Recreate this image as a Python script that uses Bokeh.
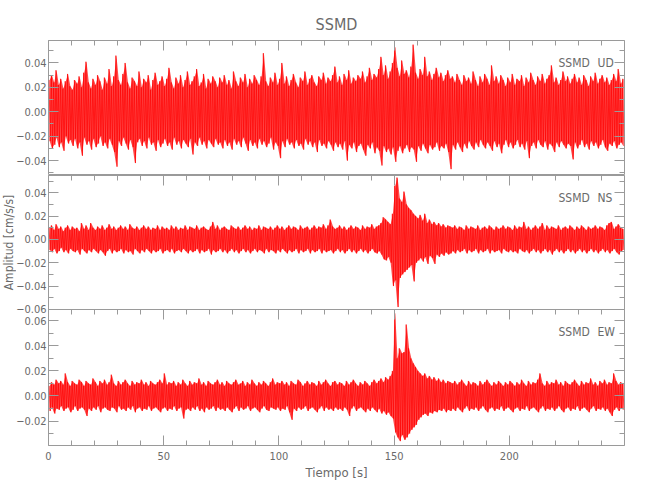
import numpy as np
from math import pi
from bokeh.plotting import figure
from bokeh.models import Range1d, FixedTicker, LinearAxis, Label
from bokeh.layouts import column, row
from bokeh.core.properties import value
from bokeh.embed import file_html
from bokeh.resources import INLINE

# ---------------- data (per-second peaks) ----------------
station = "SSMD"
components = ["UD", "NS", "EW"]
x_title = "Tiempo [s]"
y_title = "Amplitud [cm/s/s]"
t_start = 0.0      # s
t_step = 1.0       # s per envelope sample

ud_max = [
 0.026, 0.030, 0.024, 0.034, 0.022, 0.027, 0.019, 0.025, 0.031, 0.021, 0.018, 0.026, 0.023, 0.029, 0.020, 0.032, 0.041, 0.024, 0.019, 0.027, 0.022, 0.030, 0.025, 0.018, 0.028,
 0.023, 0.035, 0.021, 0.029, 0.046, 0.026, 0.022, 0.031, 0.040, 0.024, 0.019, 0.028, 0.025, 0.021, 0.033, 0.020, 0.027, 0.024, 0.030, 0.018, 0.026, 0.032, 0.022, 0.025, 0.029,
 0.021, 0.027, 0.036, 0.024, 0.019, 0.028, 0.023, 0.030, 0.020, 0.026, 0.033, 0.022, 0.025, 0.029, 0.035, 0.021, 0.024, 0.031, 0.019, 0.027, 0.023, 0.029, 0.025, 0.020, 0.028,
 0.024, 0.030, 0.022, 0.026, 0.019, 0.033, 0.025, 0.021, 0.028, 0.024, 0.031, 0.020, 0.027, 0.023, 0.030, 0.026, 0.022, 0.029, 0.048, 0.025, 0.021, 0.028, 0.024, 0.032, 0.022,
 0.027, 0.040, 0.023, 0.029, 0.021, 0.026, 0.031, 0.024, 0.020, 0.028, 0.025, 0.033, 0.022, 0.027, 0.030, 0.024, 0.021, 0.029, 0.026, 0.032, 0.023, 0.028, 0.025, 0.030, 0.037,
 0.024, 0.029, 0.022, 0.031, 0.026, 0.034, 0.023, 0.028, 0.025, 0.030, 0.027, 0.033, 0.024, 0.029, 0.036, 0.026, 0.031, 0.028, 0.035, 0.045, 0.030, 0.038, 0.027, 0.033, 0.040,
 0.053, 0.036, 0.029, 0.042, 0.031, 0.034, 0.028, 0.037, 0.055, 0.032, 0.027, 0.035, 0.030, 0.045, 0.029, 0.033, 0.026, 0.031, 0.036, 0.028, 0.032, 0.025, 0.030, 0.034, 0.027,
 0.029, 0.024, 0.031, 0.026, 0.022, 0.030, 0.025, 0.028, 0.023, 0.033, 0.026, 0.021, 0.029, 0.024, 0.031, 0.027, 0.022, 0.038, 0.025, 0.029, 0.023, 0.030, 0.026, 0.021, 0.028,
 0.024, 0.031, 0.022, 0.027, 0.025, 0.030, 0.021, 0.028, 0.024, 0.032, 0.026, 0.022, 0.029, 0.025, 0.031, 0.023, 0.027, 0.030, 0.038, 0.024, 0.028, 0.022, 0.026, 0.033, 0.025,
 0.029, 0.023, 0.027, 0.031, 0.024, 0.028, 0.022, 0.030, 0.026, 0.021, 0.029, 0.025, 0.032, 0.023, 0.027, 0.030, 0.024, 0.028, 0.022, 0.026, 0.031, 0.025, 0.035, 0.023, 0.027,
]
ud_min = [
 -0.024, -0.030, -0.027, -0.021, -0.029, -0.025, -0.032, -0.020, -0.026, -0.023, -0.028, -0.022, -0.030, -0.025, -0.036, -0.021, -0.027, -0.024, -0.031, -0.022, -0.029, -0.026, -0.020, -0.028, -0.025,
 -0.030, -0.022, -0.027, -0.033, -0.045, -0.024, -0.028, -0.021, -0.026, -0.031, -0.023, -0.029, -0.042, -0.025, -0.022, -0.028, -0.024, -0.030, -0.021, -0.027, -0.025, -0.032, -0.023, -0.029, -0.026,
 -0.022, -0.028, -0.025, -0.031, -0.021, -0.027, -0.024, -0.030, -0.023, -0.026, -0.029, -0.022, -0.035, -0.025, -0.028, -0.021, -0.027, -0.024, -0.030, -0.023, -0.026, -0.029, -0.022, -0.027, -0.025,
 -0.030, -0.023, -0.028, -0.025, -0.031, -0.022, -0.027, -0.024, -0.029, -0.021, -0.026, -0.032, -0.023, -0.028, -0.025, -0.030, -0.022, -0.027, -0.024, -0.029, -0.026, -0.021, -0.031, -0.025, -0.028,
 -0.038, -0.024, -0.029, -0.022, -0.027, -0.025, -0.030, -0.023, -0.028, -0.026, -0.031, -0.022, -0.027, -0.024, -0.029, -0.025, -0.033, -0.023, -0.028, -0.026, -0.030, -0.024, -0.027, -0.032, -0.025,
 -0.029, -0.026, -0.031, -0.024, -0.040, -0.027, -0.030, -0.025, -0.033, -0.028, -0.026, -0.031, -0.036, -0.027, -0.030, -0.025, -0.034, -0.029, -0.032, -0.044, -0.028, -0.033, -0.030, -0.035, -0.029,
 -0.041, -0.032, -0.028, -0.034, -0.030, -0.027, -0.033, -0.029, -0.031, -0.041, -0.028, -0.032, -0.026, -0.030, -0.034, -0.027, -0.031, -0.029, -0.025, -0.032, -0.028, -0.030, -0.026, -0.033, -0.047,
 -0.027, -0.031, -0.025, -0.029, -0.033, -0.026, -0.030, -0.024, -0.028, -0.031, -0.025, -0.029, -0.023, -0.027, -0.030, -0.025, -0.028, -0.032, -0.024, -0.029, -0.026, -0.034, -0.027, -0.023, -0.029,
 -0.025, -0.030, -0.027, -0.023, -0.029, -0.026, -0.031, -0.024, -0.038, -0.028, -0.025, -0.030, -0.023, -0.027, -0.029, -0.024, -0.031, -0.026, -0.028, -0.033, -0.025, -0.029, -0.024, -0.027, -0.030,
 -0.026, -0.028, -0.039, -0.025, -0.030, -0.027, -0.023, -0.029, -0.026, -0.031, -0.024, -0.028, -0.025, -0.030, -0.027, -0.023, -0.029, -0.032, -0.026, -0.028, -0.024, -0.030, -0.027, -0.025, -0.028,
]

ns_max = [
 0.010, 0.012, 0.008, 0.013, 0.009, 0.011, 0.007, 0.010, 0.012, 0.008, 0.011, 0.009, 0.010, 0.007, 0.014, 0.009, 0.012, 0.008, 0.014, 0.010, 0.008, 0.011, 0.009, 0.012, 0.008,
 0.010, 0.013, 0.009, 0.011, 0.008, 0.010, 0.012, 0.009, 0.011, 0.008, 0.013, 0.010, 0.009, 0.011, 0.008, 0.010, 0.012, 0.009, 0.011, 0.008, 0.010, 0.009, 0.012, 0.008, 0.011,
 0.009, 0.010, 0.008, 0.012, 0.009, 0.011, 0.008, 0.010, 0.009, 0.012, 0.008, 0.011, 0.010, 0.009, 0.012, 0.008, 0.010, 0.011, 0.009, 0.008, 0.011, 0.015, 0.009, 0.012, 0.008,
 0.010, 0.011, 0.009, 0.008, 0.012, 0.010, 0.009, 0.011, 0.008, 0.010, 0.012, 0.009, 0.011, 0.008, 0.010, 0.009, 0.012, 0.008, 0.011, 0.010, 0.009, 0.011, 0.008, 0.010, 0.012,
 0.009, 0.011, 0.008, 0.010, 0.012, 0.009, 0.011, 0.010, 0.008, 0.012, 0.009, 0.010, 0.011, 0.008, 0.010, 0.012, 0.009, 0.011, 0.010, 0.013, 0.009, 0.012, 0.017, 0.011, 0.009,
 0.010, 0.012, 0.009, 0.011, 0.008, 0.010, 0.012, 0.009, 0.011, 0.010, 0.008, 0.012, 0.009, 0.011, 0.010, 0.013, 0.009, 0.011, 0.012, 0.014, 0.019, 0.017, 0.015, 0.013, 0.022,
 0.046, 0.053, 0.035, 0.032, 0.041, 0.030, 0.027, 0.025, 0.022, 0.020, 0.018, 0.021, 0.016, 0.022, 0.014, 0.017, 0.013, 0.015, 0.012, 0.014, 0.011, 0.013, 0.010, 0.012, 0.011,
 0.010, 0.012, 0.009, 0.011, 0.010, 0.008, 0.012, 0.009, 0.011, 0.010, 0.009, 0.012, 0.008, 0.010, 0.011, 0.009, 0.012, 0.010, 0.008, 0.011, 0.009, 0.010, 0.012, 0.009, 0.011,
 0.010, 0.008, 0.012, 0.009, 0.011, 0.010, 0.015, 0.009, 0.011, 0.008, 0.010, 0.012, 0.009, 0.011, 0.014, 0.008, 0.012, 0.009, 0.011, 0.010, 0.009, 0.012, 0.008, 0.010, 0.011,
 0.009, 0.012, 0.010, 0.008, 0.011, 0.009, 0.012, 0.010, 0.008, 0.011, 0.009, 0.010, 0.012, 0.009, 0.011, 0.010, 0.008, 0.012, 0.014, 0.015, 0.009, 0.011, 0.013, 0.010, 0.009,
]
ns_min = [
 -0.009, -0.011, -0.008, -0.012, -0.010, -0.007, -0.011, -0.009, -0.012, -0.008, -0.010, -0.011, -0.009, -0.013, -0.008, -0.010, -0.012, -0.009, -0.011, -0.008, -0.010, -0.012, -0.009, -0.011, -0.014,
 -0.010, -0.008, -0.012, -0.009, -0.011, -0.010, -0.008, -0.012, -0.009, -0.011, -0.010, -0.013, -0.008, -0.010, -0.012, -0.009, -0.011, -0.008, -0.010, -0.012, -0.009, -0.011, -0.010, -0.008, -0.012,
 -0.010, -0.009, -0.011, -0.008, -0.012, -0.010, -0.009, -0.011, -0.008, -0.010, -0.012, -0.009, -0.011, -0.010, -0.008, -0.012, -0.009, -0.011, -0.010, -0.008, -0.013, -0.009, -0.011, -0.010, -0.008,
 -0.011, -0.009, -0.012, -0.010, -0.008, -0.011, -0.009, -0.012, -0.010, -0.008, -0.011, -0.009, -0.012, -0.010, -0.008, -0.011, -0.009, -0.010, -0.012, -0.008, -0.011, -0.009, -0.010, -0.012, -0.009,
 -0.011, -0.008, -0.010, -0.012, -0.009, -0.011, -0.010, -0.008, -0.012, -0.009, -0.011, -0.010, -0.008, -0.012, -0.009, -0.011, -0.010, -0.008, -0.012, -0.009, -0.011, -0.010, -0.009, -0.012, -0.010,
 -0.008, -0.011, -0.009, -0.012, -0.010, -0.008, -0.011, -0.009, -0.012, -0.010, -0.008, -0.011, -0.009, -0.012, -0.010, -0.008, -0.011, -0.012, -0.010, -0.013, -0.017, -0.018, -0.015, -0.020, -0.040,
 -0.035, -0.058, -0.033, -0.030, -0.028, -0.026, -0.024, -0.022, -0.036, -0.020, -0.018, -0.016, -0.019, -0.015, -0.021, -0.014, -0.016, -0.021, -0.013, -0.015, -0.012, -0.014, -0.011, -0.013, -0.012,
 -0.010, -0.012, -0.009, -0.011, -0.010, -0.008, -0.012, -0.009, -0.011, -0.010, -0.008, -0.012, -0.009, -0.011, -0.010, -0.008, -0.012, -0.009, -0.011, -0.010, -0.009, -0.012, -0.008, -0.010, -0.011,
 -0.009, -0.011, -0.010, -0.012, -0.008, -0.010, -0.011, -0.009, -0.012, -0.010, -0.008, -0.011, -0.009, -0.012, -0.010, -0.008, -0.011, -0.009, -0.013, -0.010, -0.008, -0.011, -0.009, -0.012, -0.010,
 -0.008, -0.011, -0.009, -0.012, -0.010, -0.008, -0.011, -0.009, -0.012, -0.010, -0.008, -0.011, -0.009, -0.012, -0.010, -0.008, -0.011, -0.009, -0.012, -0.010, -0.008, -0.011, -0.013, -0.010, -0.009,
]

ew_max = [
 0.008, 0.011, 0.009, 0.013, 0.010, 0.012, 0.009, 0.018, 0.011, 0.008, 0.012, 0.010, 0.009, 0.013, 0.011, 0.008, 0.012, 0.010, 0.009, 0.014, 0.011, 0.008, 0.012, 0.010, 0.013,
 0.009, 0.011, 0.017, 0.010, 0.008, 0.012, 0.009, 0.011, 0.013, 0.010, 0.008, 0.012, 0.009, 0.011, 0.010, 0.013, 0.009, 0.011, 0.008, 0.012, 0.010, 0.009, 0.011, 0.013, 0.010,
 0.018, 0.009, 0.011, 0.010, 0.012, 0.008, 0.011, 0.009, 0.013, 0.010, 0.008, 0.012, 0.009, 0.011, 0.010, 0.014, 0.009, 0.011, 0.008, 0.012, 0.010, 0.009, 0.011, 0.013, 0.009,
 0.011, 0.008, 0.012, 0.010, 0.009, 0.011, 0.013, 0.009, 0.010, 0.012, 0.008, 0.011, 0.009, 0.013, 0.010, 0.008, 0.011, 0.009, 0.012, 0.010, 0.008, 0.011, 0.014, 0.009, 0.011,
 0.010, 0.012, 0.009, 0.011, 0.008, 0.012, 0.010, 0.009, 0.013, 0.011, 0.008, 0.010, 0.012, 0.009, 0.011, 0.010, 0.008, 0.012, 0.009, 0.011, 0.013, 0.010, 0.008, 0.011, 0.012,
 0.009, 0.011, 0.010, 0.008, 0.012, 0.009, 0.011, 0.013, 0.010, 0.008, 0.011, 0.009, 0.012, 0.010, 0.008, 0.011, 0.013, 0.010, 0.012, 0.014, 0.011, 0.015, 0.013, 0.016, 0.020,
 0.066, 0.030, 0.038, 0.034, 0.035, 0.057, 0.038, 0.030, 0.026, 0.023, 0.020, 0.018, 0.016, 0.018, 0.014, 0.016, 0.013, 0.015, 0.012, 0.014, 0.011, 0.013, 0.010, 0.012, 0.011,
 0.010, 0.012, 0.009, 0.011, 0.013, 0.010, 0.008, 0.012, 0.009, 0.011, 0.010, 0.008, 0.012, 0.009, 0.011, 0.013, 0.010, 0.008, 0.011, 0.009, 0.012, 0.010, 0.008, 0.011, 0.009,
 0.012, 0.010, 0.008, 0.011, 0.009, 0.013, 0.010, 0.008, 0.012, 0.009, 0.011, 0.010, 0.013, 0.018, 0.010, 0.008, 0.012, 0.009, 0.011, 0.010, 0.013, 0.009, 0.011, 0.008, 0.012,
 0.010, 0.009, 0.011, 0.013, 0.010, 0.008, 0.012, 0.009, 0.011, 0.010, 0.014, 0.009, 0.011, 0.008, 0.012, 0.010, 0.013, 0.009, 0.011, 0.010, 0.018, 0.012, 0.009, 0.011, 0.010,
]
ew_min = [
 -0.012, -0.009, -0.014, -0.010, -0.011, -0.008, -0.012, -0.010, -0.009, -0.013, -0.011, -0.008, -0.012, -0.010, -0.009, -0.011, -0.016, -0.010, -0.012, -0.009, -0.011, -0.008, -0.013, -0.010, -0.009,
 -0.011, -0.012, -0.009, -0.010, -0.013, -0.008, -0.011, -0.010, -0.012, -0.009, -0.011, -0.008, -0.013, -0.010, -0.009, -0.012, -0.010, -0.011, -0.008, -0.012, -0.010, -0.009, -0.011, -0.013, -0.010,
 -0.009, -0.012, -0.010, -0.011, -0.008, -0.012, -0.010, -0.009, -0.018, -0.011, -0.010, -0.012, -0.009, -0.011, -0.008, -0.012, -0.010, -0.013, -0.009, -0.011, -0.010, -0.008, -0.012, -0.009, -0.011,
 -0.010, -0.012, -0.009, -0.011, -0.013, -0.010, -0.008, -0.012, -0.009, -0.011, -0.010, -0.008, -0.012, -0.010, -0.009, -0.011, -0.013, -0.010, -0.008, -0.011, -0.012, -0.009, -0.010, -0.011, -0.009,
 -0.012, -0.010, -0.011, -0.008, -0.013, -0.019, -0.010, -0.012, -0.009, -0.011, -0.010, -0.008, -0.012, -0.010, -0.009, -0.011, -0.013, -0.010, -0.008, -0.012, -0.009, -0.011, -0.010, -0.012, -0.009,
 -0.011, -0.010, -0.012, -0.009, -0.011, -0.016, -0.010, -0.008, -0.012, -0.010, -0.009, -0.011, -0.013, -0.010, -0.012, -0.009, -0.011, -0.013, -0.010, -0.014, -0.012, -0.015, -0.013, -0.016, -0.018,
 -0.029, -0.033, -0.036, -0.031, -0.035, -0.033, -0.030, -0.027, -0.025, -0.023, -0.019, -0.017, -0.015, -0.014, -0.016, -0.013, -0.014, -0.012, -0.013, -0.011, -0.012, -0.010, -0.013, -0.011, -0.012,
 -0.010, -0.012, -0.009, -0.011, -0.013, -0.010, -0.008, -0.012, -0.010, -0.011, -0.009, -0.012, -0.010, -0.008, -0.011, -0.013, -0.010, -0.009, -0.012, -0.010, -0.011, -0.008, -0.012, -0.010, -0.009,
 -0.011, -0.013, -0.010, -0.009, -0.012, -0.010, -0.011, -0.008, -0.012, -0.010, -0.009, -0.011, -0.013, -0.010, -0.008, -0.012, -0.010, -0.011, -0.009, -0.012, -0.010, -0.008, -0.011, -0.013, -0.010,
 -0.009, -0.012, -0.010, -0.011, -0.008, -0.012, -0.010, -0.009, -0.011, -0.013, -0.010, -0.008, -0.012, -0.010, -0.011, -0.009, -0.012, -0.010, -0.013, -0.016, -0.011, -0.009, -0.012, -0.010, -0.011,
]

# axis ranges and ticks
x_limits = (0, 250)
x_ticks = [0, 50, 100, 150, 200]
x_tick_labels = ["0", "50", "100", "150", "200"]
x_minor = list(range(0, 251, 10))

ud_limits = (-0.0522, 0.0584)
ud_ticks = [-0.04, -0.02, 0.0, 0.02, 0.04]
ud_tick_labels = ["\u22120.04", "\u22120.02", "0.00", "0.02", "0.04"]
ud_minor = [-0.05, -0.03, -0.01, 0.01, 0.03, 0.05]

ns_limits = (-0.0601, 0.0548)
ns_ticks = [-0.06, -0.04, -0.02, 0.0, 0.02, 0.04]
ns_tick_labels = ["\u22120.06", "\u22120.04", "\u22120.02", "0.00", "0.02", "0.04"]
ns_minor = [-0.05, -0.03, -0.01, 0.01, 0.03, 0.05]

ew_limits = (-0.0395, 0.0690)
ew_ticks = [-0.02, 0.0, 0.02, 0.04, 0.06]
ew_tick_labels = ["\u22120.02", "0.00", "0.02", "0.04", "0.06"]
ew_minor = [-0.03, -0.01, 0.01, 0.03, 0.05]

# ---------------- styling / layout ----------------
FONT = "'Liberation Sans Narrow', 'DejaVu Sans Condensed', 'Liberation Sans', sans-serif"
GREY_LINE = "#9a9a9a"
GREY_TEXT = "#6a6a6a"
TRACE = "#ff0000"
YT_W = 16                 # strip holding the vertical axis title
YT_OVERLAP = 4            # panels' transparent left border overlaps the strip
LEFT = 48 - YT_W + YT_OVERLAP
RIGHT = 24
FRAME_W = 576
W = LEFT + FRAME_W + RIGHT
H1, H2, H3 = 135, 134, 136
TOP, OVER, BOTTOM = 40, 7, 42
H_TOTAL = TOP + H1 + H2 + H3 + BOTTOM


def zigzag(vmax, vmin):
    n = len(vmax)
    t = t_start + t_step * np.arange(n)
    xs = np.empty(2 * n)
    ys = np.empty(2 * n)
    xs[0::2] = t + 0.25 * t_step
    xs[1::2] = t + 0.75 * t_step
    ys[0::2] = vmax
    ys[1::2] = vmin
    return t, xs, ys


def style_axis(ax, labels_visible):
    ax.axis_line_color = None
    ax.major_tick_line_color = GREY_LINE
    ax.minor_tick_line_color = GREY_LINE
    ax.major_tick_in = 10
    ax.major_tick_out = 0
    ax.minor_tick_in = 5
    ax.minor_tick_out = 0
    ax.major_label_text_font = FONT
    ax.major_label_text_color = GREY_TEXT
    if labels_visible:
        ax.major_label_text_font_size = "11px"
        ax.major_label_standoff = 2
    else:
        ax.major_label_text_font_size = "0px"
        ax.major_label_text_alpha = 0
        ax.major_label_standoff = 0


x_range = Range1d(*x_limits)


def make_panel(vmax, vmin, limits, yticks, ylabels, yminor, comp, frame_h, top, bottom, xlabels):
    p = figure(width=W, height=frame_h + top + bottom, x_range=x_range,
               y_range=Range1d(*limits), output_backend="svg", toolbar_location=None,
               x_axis_location=None, y_axis_location=None,
               min_border_left=LEFT, min_border_right=RIGHT,
               min_border_top=top, min_border_bottom=bottom)
    p.xgrid.visible = False
    p.ygrid.visible = False
    p.outline_line_color = GREY_LINE
    p.outline_line_width = 1
    p.background_fill_color = "white"
    p.border_fill_alpha = 0

    t, xs, ys = zigzag(vmax, vmin)
    p.varea(x=t + 0.5 * t_step, y1=vmin, y2=vmax, fill_color=TRACE, fill_alpha=0.7)
    p.line(xs, ys, line_color=TRACE, line_width=0.7)

    yt = FixedTicker(ticks=yticks, minor_ticks=yminor)
    overrides = {k: v for k, v in zip(yticks, ylabels)}
    left = LinearAxis(ticker=yt, major_label_overrides=overrides)
    style_axis(left, True)
    p.add_layout(left, "left")
    right = LinearAxis(ticker=yt)
    style_axis(right, False)
    p.add_layout(right, "right")

    xt = FixedTicker(ticks=x_ticks, minor_ticks=x_minor)
    top_ax = LinearAxis(ticker=xt)
    style_axis(top_ax, False)
    p.add_layout(top_ax, "above")
    if xlabels:
        bot = LinearAxis(ticker=xt, major_label_overrides={k: v for k, v in zip(x_ticks, x_tick_labels)})
        style_axis(bot, True)
        bot.major_label_standoff = 6
        bot.axis_label = x_title
        bot.axis_label_text_font = FONT
        bot.axis_label_text_font_size = "13px"
        bot.axis_label_text_font_style = "normal"
        bot.axis_label_text_color = GREY_TEXT
        bot.axis_label_standoff = 2
        p.add_layout(bot, "below")

    p.add_layout(Label(x=FRAME_W - 66, y=frame_h - 22, x_units="screen", y_units="screen",
                       text=station, text_font=FONT, text_font_size="12px",
                       text_color=GREY_TEXT, text_baseline="middle", text_align="left"))
    p.add_layout(Label(x=FRAME_W - 27, y=frame_h - 22, x_units="screen", y_units="screen",
                       text=comp, text_font=FONT, text_font_size="12px",
                       text_color=GREY_TEXT, text_baseline="middle", text_align="left"))
    return p


p1 = make_panel(ud_max, ud_min, ud_limits, ud_ticks, ud_tick_labels, ud_minor, components[0], H1, TOP, 0, False)
p2 = make_panel(ns_max, ns_min, ns_limits, ns_ticks, ns_tick_labels, ns_minor, components[1], H2, 0, OVER, False)
p3 = make_panel(ew_max, ew_min, ew_limits, ew_ticks, ew_tick_labels, ew_minor, components[2], H3, 0, BOTTOM, True)
# let the lowest tick label of the middle panel show through the (transparent) top of the last panel
p3.margin = (-OVER, 0, 0, 0)
p3.background_fill_alpha = 0

# title above the first panel
p1.title.text = station
p1.title.align = "center"
p1.title.text_font = FONT
p1.title.text_font_size = "16px"
p1.title.text_font_style = "normal"
p1.title.text_color = GREY_TEXT
p1.title.standoff = 13

# vertical axis title in its own narrow strip, centred on the middle panel
yt_fig = figure(width=YT_W, height=H_TOTAL, x_range=Range1d(0, YT_W), y_range=Range1d(0, H_TOTAL),
                output_backend="svg", toolbar_location=None, x_axis_location=None,
                y_axis_location=None, min_border=0)
yt_fig.xgrid.visible = False
yt_fig.ygrid.visible = False
yt_fig.outline_line_color = None
yt_fig.text(x=[YT_W / 2], y=[H_TOTAL - (TOP + H1 + H2 / 2)], text=[y_title], angle=pi / 2,
            text_align="center", text_baseline="middle", text_font=value(FONT),
            text_font_size=value("12px"), text_color=GREY_TEXT)

panels = column(p1, p2, p3, spacing=0)
panels.margin = (0, 0, 0, -YT_OVERLAP)
layout = row(yt_fig, panels, spacing=0)
open("out.html", "w").write(file_html(layout, INLINE))
